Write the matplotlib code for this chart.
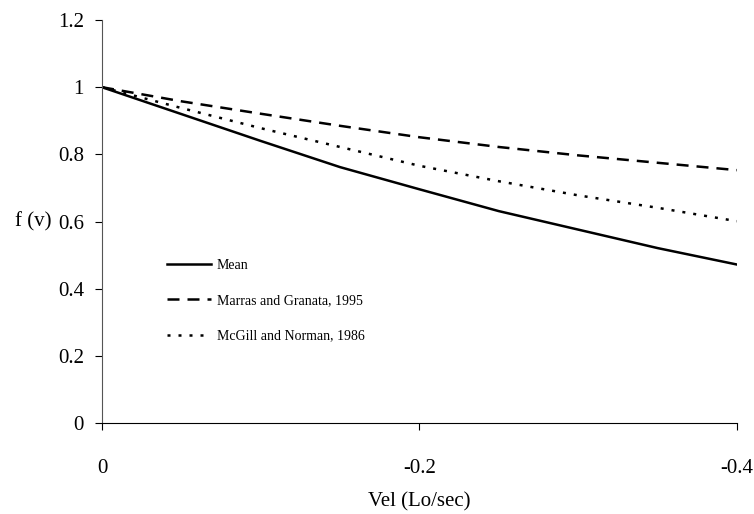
import matplotlib
matplotlib.use("Agg")
import matplotlib.pyplot as plt

plt.rcParams['font.family'] = ['Liberation Serif', 'DejaVu Serif']
plt.rcParams['axes.unicode_minus'] = False

# velocity (Lo/sec) and force-velocity factor f(v)
vel = [0, -0.05, -0.1, -0.15, -0.2, -0.25, -0.3, -0.35, -0.4]
mean = [1.0, 0.920, 0.840, 0.762, 0.696, 0.631, 0.576, 0.521, 0.472]
marras = [1.0, 0.958, 0.921, 0.885, 0.851, 0.822, 0.797, 0.775, 0.753]
mcgill = [1.0, 0.938, 0.878, 0.822, 0.766, 0.720, 0.678, 0.641, 0.601]

yticks = [0, 0.2, 0.4, 0.6, 0.8, 1, 1.2]
ylabels = ["0", "0.2", "0.4", "0.6", "0.8", "1", "1.2"]
xticks = [0, -0.2, -0.4]
xlabels = ["0", "-0.2", "-0.4"]

fig = plt.figure(figsize=(7.54, 5.14), dpi=100)
ax = fig.add_axes([0.1353, 0.177, 0.842, 0.784])

ax.plot(vel, mean, color='black', lw=1.8, label='Mean')
ax.plot(vel, marras, color='black', lw=1.8, linestyle=(0, (4.8, 3.2)),
        label='Marras and Granata, 1995')
ax.plot(vel, mcgill, color='black', lw=1.8, linestyle=(0, (1.2, 3.2)),
        label='McGill and Norman, 1986')

ax.set_xlim(0, -0.4)
ax.set_ylim(0, 1.2)
ax.set_xticks(xticks)
ax.set_xticklabels(xlabels)
ax.set_yticks(yticks)
ax.set_yticklabels(ylabels)

for s in ['top', 'right']:
    ax.spines[s].set_visible(False)
ax.spines['left'].set_color('#555555')
ax.spines['bottom'].set_color('black')

ax.tick_params(axis='y', direction='out', length=5, pad=8, labelsize=15)
ax.tick_params(axis='x', direction='out', length=5, pad=21, labelsize=15)

ax.set_xlabel('Vel (Lo/sec)', fontsize=15, labelpad=10)
fig.text(0.02, 1 - 222 / 514, 'f (v)', fontsize=15, va='center', ha='left')

ax.legend(loc='upper left', bbox_to_anchor=(0.082, 0.438), frameon=False,
          fontsize=10, handlelength=3.2, labelspacing=1.6, handletextpad=0.4)

fig.savefig('out.png', dpi=100)
